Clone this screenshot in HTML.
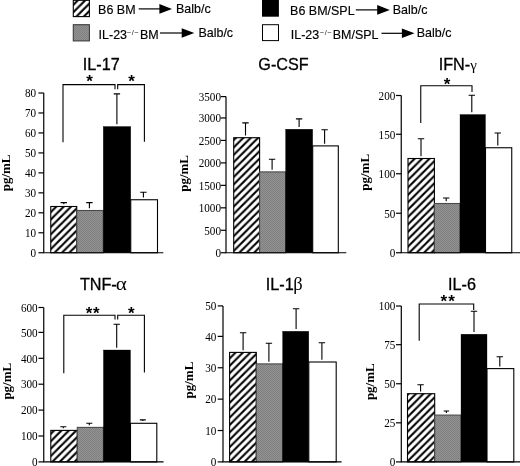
<!DOCTYPE html>
<html lang="en"><head><meta charset="utf-8"><title>Figure</title>
<style>
html,body{margin:0;padding:0;background:#fff;}
body{width:520px;height:466px;overflow:hidden;}
svg{display:block;will-change:transform;}
.lg{font-family:"Liberation Sans", Arial, Helvetica, sans-serif;font-size:11.9px;fill:#000;stroke:#000;stroke-width:0.15px;}
.sup{font-family:"Liberation Sans", Arial, Helvetica, sans-serif;font-size:7.5px;letter-spacing:0.5px;fill:#222;}
.tt{font-family:"Liberation Sans", Arial, Helvetica, sans-serif;font-size:16.2px;fill:#000;stroke:#000;stroke-width:0.3px;}
.gk{font-family:"Liberation Serif", "Times New Roman", Times, serif;font-size:15px;fill:#000;stroke-width:0;}
.tk{font-family:"Liberation Serif", "Times New Roman", Times, serif;font-size:11.7px;fill:#000;}
.yl{font-family:"Liberation Serif", "Times New Roman", Times, serif;font-size:13px;font-weight:bold;fill:#000;}
.st{font-family:"Liberation Sans", Arial, Helvetica, sans-serif;font-size:17px;font-weight:bold;fill:#000;}
</style></head><body>
<svg width="520" height="466" viewBox="0 0 520 466">
<defs>
<pattern id="hatch" width="7.39" height="7.39" patternUnits="userSpaceOnUse"><rect width="7.39" height="7.39" fill="#fff"/><path d="M-23.14 20L16.86 -20M-15.75 20L24.25 -20M-8.36 20L31.64 -20M-0.97 20L39.03 -20" stroke="#000" stroke-width="2.0" fill="none"/></pattern>
<pattern id="dots" width="2" height="2" patternUnits="userSpaceOnUse"><rect width="2" height="2" fill="#929292"/><rect width="1" height="1" fill="#808080"/><rect x="1" y="1" width="1" height="1" fill="#808080"/></pattern>
</defs>
<rect width="520" height="466" fill="#fff"/>
<rect x="73.3" y="0.3" width="16.1" height="16.3" fill="url(#hatch)" stroke="#000" stroke-width="1.1"/>
<rect x="73.3" y="24.7" width="16.1" height="16.2" fill="url(#dots)" stroke="#3c3c3c" stroke-width="1.1"/>
<rect x="262" y="0" width="16.9" height="16.7" fill="#000"/>
<rect x="262.5" y="24.7" width="16" height="15.9" fill="#fff" stroke="#000" stroke-width="1"/>
<text transform="translate(98.1 14.2) scale(1.05 1)" class="lg">B6 BM</text>
<path d="M138.7 8.9H162" stroke="#000" stroke-width="1.2"/>
<path d="M172 8.9L159.40 4.10V13.70Z" fill="#000"/>
<text transform="translate(176.0 12.9) scale(1.05 1)" class="lg">Balb/c</text>
<text transform="translate(98.6 38.5) scale(1.05 1)" class="lg">IL-23</text>
<text x="126.8" y="34.7" class="sup">−/−</text>
<text transform="translate(139.9 38.5) scale(1.05 1)" class="lg">BM</text>
<path d="M160 33.0H184.3" stroke="#000" stroke-width="1.2"/>
<path d="M194.3 33.0L181.70 28.20V37.80Z" fill="#000"/>
<text transform="translate(198.4 37.3) scale(1.05 1)" class="lg">Balb/c</text>
<text transform="translate(290.1 15.0) scale(1.05 1)" class="lg">B6 BM/SPL</text>
<path d="M355.8 9.9H379.8" stroke="#000" stroke-width="1.2"/>
<path d="M389.8 9.9L377.20 5.10V14.70Z" fill="#000"/>
<text transform="translate(392.7 13.5) scale(1.05 1)" class="lg">Balb/c</text>
<text transform="translate(290.8 38.55) scale(1.05 1)" class="lg">IL-23</text>
<text x="319.8" y="34.8" class="sup">−/−</text>
<text transform="translate(332.7 38.55) scale(1.05 1)" class="lg">BM/SPL</text>
<path d="M381.5 33.3H404.5" stroke="#000" stroke-width="1.2"/>
<path d="M414.5 33.3L401.90 28.50V38.10Z" fill="#000"/>
<text transform="translate(416.7 36.8) scale(1.05 1)" class="lg">Balb/c</text>
<text x="82.8" y="70.3" class="tt">IL-17</text>
<text x="258.3" y="70.4" class="tt">G-CSF</text>
<text x="438.7" y="70.2" class="tt">IFN-<tspan class="gk">γ</tspan></text>
<text x="79.9" y="289.8" class="tt">TNF-</text>
<text transform="translate(115.8 289.7) scale(1.17 1)" class="gk" style="font-size:18px">α</text>
<text x="265.8" y="289.8" class="tt">IL-1</text>
<text x="293.2" y="289.7" class="gk" style="font-size:18.5px">β</text>
<text x="448.0" y="289.8" class="tt">IL-6</text>
<path d="M60.60 202.6H67.00M63.80 202.6V204.30" fill="none" stroke="#000" stroke-width="1.1"/>
<path d="M86.20 202.6H92.60M89.40 202.6V208.30" fill="none" stroke="#000" stroke-width="1.1"/>
<path d="M113.70 93.9H120.10M116.90 93.9V124.30" fill="none" stroke="#000" stroke-width="1.1"/>
<path d="M140.20 192.3H146.60M143.40 192.3V197.55" fill="none" stroke="#000" stroke-width="1.1"/>
<rect x="50.75" y="206.5" width="26.00" height="46.25" fill="url(#hatch)" stroke="#000" stroke-width="1.1"/>
<rect x="76.75" y="210.5" width="26.50" height="42.25" fill="url(#dots)" stroke="#4a4a4a" stroke-width="1.1"/>
<rect x="103.25" y="126.5" width="27.50" height="126.25" fill="#000" stroke="#000" stroke-width="0.3"/>
<rect x="130.75" y="199.75" width="26.75" height="53.00" fill="#fff" stroke="#000" stroke-width="1.1"/>
<path d="M43.75 93.0V252.75H163.3" fill="none" stroke="#000" stroke-width="1.2"/>
<path d="M38.45 252.75H43.75" stroke="#000" stroke-width="1.2"/>
<text transform="translate(36.20 257.00) scale(0.955 1)" text-anchor="end" class="tk">0</text>
<path d="M38.45 232.78H43.75" stroke="#000" stroke-width="1.2"/>
<text transform="translate(36.20 237.03) scale(0.955 1)" text-anchor="end" class="tk">10</text>
<path d="M38.45 212.81H43.75" stroke="#000" stroke-width="1.2"/>
<text transform="translate(36.20 217.06) scale(0.955 1)" text-anchor="end" class="tk">20</text>
<path d="M38.45 192.84H43.75" stroke="#000" stroke-width="1.2"/>
<text transform="translate(36.20 197.09) scale(0.955 1)" text-anchor="end" class="tk">30</text>
<path d="M38.45 172.88H43.75" stroke="#000" stroke-width="1.2"/>
<text transform="translate(36.20 177.12) scale(0.955 1)" text-anchor="end" class="tk">40</text>
<path d="M38.45 152.91H43.75" stroke="#000" stroke-width="1.2"/>
<text transform="translate(36.20 157.16) scale(0.955 1)" text-anchor="end" class="tk">50</text>
<path d="M38.45 132.94H43.75" stroke="#000" stroke-width="1.2"/>
<text transform="translate(36.20 137.19) scale(0.955 1)" text-anchor="end" class="tk">60</text>
<path d="M38.45 112.97H43.75" stroke="#000" stroke-width="1.2"/>
<text transform="translate(36.20 117.22) scale(0.955 1)" text-anchor="end" class="tk">70</text>
<path d="M38.45 93.00H43.75" stroke="#000" stroke-width="1.2"/>
<text transform="translate(36.20 97.25) scale(0.955 1)" text-anchor="end" class="tk">80</text>
<text transform="translate(10.0,172.88) rotate(-90)" text-anchor="middle" class="yl">pg/mL</text>
<path d="M63 142.3V84.6H115V89.2M117.7 89.2V84.6H144.4V141.8" fill="none" stroke="#000" stroke-width="1.1"/>
<text x="89.6" y="87" text-anchor="middle" class="st">*</text>
<text x="131.5" y="87" text-anchor="middle" class="st">*</text>
<path d="M242.30 122.9H248.70M245.50 122.9V135.50" fill="none" stroke="#000" stroke-width="1.1"/>
<path d="M268.90 159.2H275.30M272.10 159.2V169.70" fill="none" stroke="#000" stroke-width="1.1"/>
<path d="M295.90 118.9H302.30M299.10 118.9V127.00" fill="none" stroke="#000" stroke-width="1.1"/>
<path d="M321.40 129.8H327.80M324.60 129.8V143.70" fill="none" stroke="#000" stroke-width="1.1"/>
<rect x="233.7" y="137.7" width="25.90" height="115.05" fill="url(#hatch)" stroke="#000" stroke-width="1.1"/>
<rect x="259.6" y="171.9" width="26.00" height="80.85" fill="url(#dots)" stroke="#4a4a4a" stroke-width="1.1"/>
<rect x="285.6" y="129.2" width="27.10" height="123.55" fill="#000" stroke="#000" stroke-width="0.3"/>
<rect x="312.7" y="145.9" width="25.60" height="106.85" fill="#fff" stroke="#000" stroke-width="1.1"/>
<path d="M226 96.6V252.75H346.3" fill="none" stroke="#000" stroke-width="1.2"/>
<path d="M220.70 252.75H226" stroke="#000" stroke-width="1.2"/>
<text transform="translate(221.00 257.00) scale(0.955 1)" text-anchor="end" class="tk">0</text>
<path d="M220.70 230.29H226" stroke="#000" stroke-width="1.2"/>
<text transform="translate(221.00 234.54) scale(0.955 1)" text-anchor="end" class="tk">500</text>
<path d="M220.70 207.82H226" stroke="#000" stroke-width="1.2"/>
<text transform="translate(221.00 212.07) scale(0.955 1)" text-anchor="end" class="tk">1000</text>
<path d="M220.70 185.36H226" stroke="#000" stroke-width="1.2"/>
<text transform="translate(221.00 189.61) scale(0.955 1)" text-anchor="end" class="tk">1500</text>
<path d="M220.70 162.89H226" stroke="#000" stroke-width="1.2"/>
<text transform="translate(221.00 167.14) scale(0.955 1)" text-anchor="end" class="tk">2000</text>
<path d="M220.70 140.43H226" stroke="#000" stroke-width="1.2"/>
<text transform="translate(221.00 144.68) scale(0.955 1)" text-anchor="end" class="tk">2500</text>
<path d="M220.70 117.96H226" stroke="#000" stroke-width="1.2"/>
<text transform="translate(221.00 122.21) scale(0.955 1)" text-anchor="end" class="tk">3000</text>
<path d="M220.70 96.60H226" stroke="#000" stroke-width="1.2"/>
<text transform="translate(221.00 100.85) scale(0.955 1)" text-anchor="end" class="tk">3500</text>
<text transform="translate(187.8,173.40) rotate(-90)" text-anchor="middle" class="yl">pg/mL</text>
<path d="M417.80 138.7H424.20M421.00 138.7V156.30" fill="none" stroke="#000" stroke-width="1.1"/>
<path d="M443.00 198H449.40M446.20 198V201.30" fill="none" stroke="#000" stroke-width="1.1"/>
<path d="M468.60 95.2H475.00M471.80 95.2V112.30" fill="none" stroke="#000" stroke-width="1.1"/>
<path d="M494.60 133H501.00M497.80 133V145.55" fill="none" stroke="#000" stroke-width="1.1"/>
<rect x="408.0" y="158.5" width="26.40" height="94.25" fill="url(#hatch)" stroke="#000" stroke-width="1.1"/>
<rect x="434.4" y="203.5" width="25.60" height="49.25" fill="url(#dots)" stroke="#4a4a4a" stroke-width="1.1"/>
<rect x="460" y="114.5" width="25.50" height="138.25" fill="#000" stroke="#000" stroke-width="0.3"/>
<rect x="485.5" y="147.75" width="26.25" height="105.00" fill="#fff" stroke="#000" stroke-width="1.1"/>
<path d="M401.25 95.5V252.75H520" fill="none" stroke="#000" stroke-width="1.2"/>
<path d="M395.95 252.75H401.25" stroke="#000" stroke-width="1.2"/>
<text transform="translate(395.30 257.00) scale(0.955 1)" text-anchor="end" class="tk">0</text>
<path d="M395.95 213.25H401.25" stroke="#000" stroke-width="1.2"/>
<text transform="translate(395.30 217.50) scale(0.955 1)" text-anchor="end" class="tk">50</text>
<path d="M395.95 173.75H401.25" stroke="#000" stroke-width="1.2"/>
<text transform="translate(395.30 178.00) scale(0.955 1)" text-anchor="end" class="tk">100</text>
<path d="M395.95 134.25H401.25" stroke="#000" stroke-width="1.2"/>
<text transform="translate(395.30 138.50) scale(0.955 1)" text-anchor="end" class="tk">150</text>
<path d="M395.95 95.50H401.25" stroke="#000" stroke-width="1.2"/>
<text transform="translate(395.30 99.75) scale(0.955 1)" text-anchor="end" class="tk">200</text>
<text transform="translate(369.3,172.30) rotate(-90)" text-anchor="middle" class="yl">pg/mL</text>
<path d="M420.75 123V85.8H472V92" fill="none" stroke="#000" stroke-width="1.1"/>
<text x="447.1" y="89.9" text-anchor="middle" class="st">*</text>
<path d="M60.30 426.7H66.30M63.30 426.7V428.20" fill="none" stroke="#000" stroke-width="1.1"/>
<path d="M86.30 423.2H92.30M89.30 423.2V425.20" fill="none" stroke="#000" stroke-width="1.1"/>
<path d="M113.50 324.3H119.90M116.70 324.3V347.80" fill="none" stroke="#000" stroke-width="1.1"/>
<path d="M139.80 419.9H145.80M142.80 419.9V421.10" fill="none" stroke="#000" stroke-width="1.1"/>
<rect x="50.8" y="430.4" width="26.50" height="31.50" fill="url(#hatch)" stroke="#000" stroke-width="1.1"/>
<rect x="77.3" y="427.4" width="26.10" height="34.50" fill="url(#dots)" stroke="#4a4a4a" stroke-width="1.1"/>
<rect x="103.4" y="350" width="27.10" height="111.90" fill="#000" stroke="#000" stroke-width="0.3"/>
<rect x="130.5" y="423.3" width="26.30" height="38.60" fill="#fff" stroke="#000" stroke-width="1.1"/>
<path d="M43.75 307.5V461.9H163.6" fill="none" stroke="#000" stroke-width="1.2"/>
<path d="M38.45 461.90H43.75" stroke="#000" stroke-width="1.2"/>
<text transform="translate(37.70 466.15) scale(0.955 1)" text-anchor="end" class="tk">0</text>
<path d="M38.45 436.00H43.75" stroke="#000" stroke-width="1.2"/>
<text transform="translate(37.70 440.25) scale(0.955 1)" text-anchor="end" class="tk">100</text>
<path d="M38.45 410.10H43.75" stroke="#000" stroke-width="1.2"/>
<text transform="translate(37.70 414.35) scale(0.955 1)" text-anchor="end" class="tk">200</text>
<path d="M38.45 384.20H43.75" stroke="#000" stroke-width="1.2"/>
<text transform="translate(37.70 388.45) scale(0.955 1)" text-anchor="end" class="tk">300</text>
<path d="M38.45 358.30H43.75" stroke="#000" stroke-width="1.2"/>
<text transform="translate(37.70 362.55) scale(0.955 1)" text-anchor="end" class="tk">400</text>
<path d="M38.45 332.40H43.75" stroke="#000" stroke-width="1.2"/>
<text transform="translate(37.70 336.65) scale(0.955 1)" text-anchor="end" class="tk">500</text>
<path d="M38.45 307.50H43.75" stroke="#000" stroke-width="1.2"/>
<text transform="translate(37.70 311.75) scale(0.955 1)" text-anchor="end" class="tk">600</text>
<text transform="translate(10.5,381.20) rotate(-90)" text-anchor="middle" class="yl">pg/mL</text>
<path d="M63.8 373.3V315.2H115V319.4M117.7 319.4V315.2H144.4V372.6" fill="none" stroke="#000" stroke-width="1.1"/>
<text x="89.1" y="318.8" text-anchor="middle" class="st">*</text>
<text x="96.4" y="318.8" text-anchor="middle" class="st">*</text>
<text x="131.4" y="318.8" text-anchor="middle" class="st">*</text>
<path d="M239.90 332.7H246.30M243.10 332.7V350.20" fill="none" stroke="#000" stroke-width="1.1"/>
<path d="M265.70 343.2H272.10M268.90 343.2V361.70" fill="none" stroke="#000" stroke-width="1.1"/>
<path d="M292.90 308.7H299.30M296.10 308.7V329.05" fill="none" stroke="#000" stroke-width="1.1"/>
<path d="M318.70 342.75H325.10M321.90 342.75V359.80" fill="none" stroke="#000" stroke-width="1.1"/>
<rect x="229.6" y="352.4" width="26.70" height="109.50" fill="url(#hatch)" stroke="#000" stroke-width="1.1"/>
<rect x="256.3" y="363.9" width="26.30" height="98.00" fill="url(#dots)" stroke="#4a4a4a" stroke-width="1.1"/>
<rect x="282.6" y="331.25" width="26.20" height="130.65" fill="#000" stroke="#000" stroke-width="0.3"/>
<rect x="308.8" y="362.0" width="27.40" height="99.90" fill="#fff" stroke="#000" stroke-width="1.1"/>
<path d="M223 305.9V461.9H341.6" fill="none" stroke="#000" stroke-width="1.2"/>
<path d="M217.70 461.90H223" stroke="#000" stroke-width="1.2"/>
<text transform="translate(216.40 466.15) scale(0.955 1)" text-anchor="end" class="tk">0</text>
<path d="M217.70 430.52H223" stroke="#000" stroke-width="1.2"/>
<text transform="translate(216.40 434.77) scale(0.955 1)" text-anchor="end" class="tk">10</text>
<path d="M217.70 399.14H223" stroke="#000" stroke-width="1.2"/>
<text transform="translate(216.40 403.39) scale(0.955 1)" text-anchor="end" class="tk">20</text>
<path d="M217.70 367.76H223" stroke="#000" stroke-width="1.2"/>
<text transform="translate(216.40 372.01) scale(0.955 1)" text-anchor="end" class="tk">30</text>
<path d="M217.70 336.38H223" stroke="#000" stroke-width="1.2"/>
<text transform="translate(216.40 340.63) scale(0.955 1)" text-anchor="end" class="tk">40</text>
<path d="M217.70 305.90H223" stroke="#000" stroke-width="1.2"/>
<text transform="translate(216.40 310.15) scale(0.955 1)" text-anchor="end" class="tk">50</text>
<text transform="translate(193.0,380.10) rotate(-90)" text-anchor="middle" class="yl">pg/mL</text>
<path d="M417.40 384.7H423.80M420.60 384.7V391.50" fill="none" stroke="#000" stroke-width="1.1"/>
<path d="M443.70 411.0H449.10M446.40 411.0V412.90" fill="none" stroke="#000" stroke-width="1.1"/>
<path d="M470.80 311.2H477.20M474.00 311.2V332.00" fill="none" stroke="#000" stroke-width="1.1"/>
<path d="M496.60 356.7H503.00M499.80 356.7V366.40" fill="none" stroke="#000" stroke-width="1.1"/>
<rect x="407.5" y="393.7" width="27.20" height="68.20" fill="url(#hatch)" stroke="#000" stroke-width="1.1"/>
<rect x="434.7" y="415.1" width="26.30" height="46.80" fill="url(#dots)" stroke="#4a4a4a" stroke-width="1.1"/>
<rect x="461" y="334.2" width="26.00" height="127.70" fill="#000" stroke="#000" stroke-width="0.3"/>
<rect x="487" y="368.6" width="26.80" height="93.30" fill="#fff" stroke="#000" stroke-width="1.1"/>
<path d="M401.3 306.0V461.9H520" fill="none" stroke="#000" stroke-width="1.2"/>
<path d="M396.00 461.90H401.3" stroke="#000" stroke-width="1.2"/>
<text transform="translate(395.40 466.15) scale(0.955 1)" text-anchor="end" class="tk">0</text>
<path d="M396.00 422.82H401.3" stroke="#000" stroke-width="1.2"/>
<text transform="translate(395.40 427.07) scale(0.955 1)" text-anchor="end" class="tk">25</text>
<path d="M396.00 383.75H401.3" stroke="#000" stroke-width="1.2"/>
<text transform="translate(395.40 388.00) scale(0.955 1)" text-anchor="end" class="tk">50</text>
<path d="M396.00 344.68H401.3" stroke="#000" stroke-width="1.2"/>
<text transform="translate(395.40 348.93) scale(0.955 1)" text-anchor="end" class="tk">75</text>
<path d="M396.00 306.00H401.3" stroke="#000" stroke-width="1.2"/>
<text transform="translate(395.40 310.25) scale(0.955 1)" text-anchor="end" class="tk">100</text>
<text transform="translate(374.2,381.70) rotate(-90)" text-anchor="middle" class="yl">pg/mL</text>
<path d="M419.2 340.8V304H473.7V310" fill="none" stroke="#000" stroke-width="1.1"/>
<text x="443.9" y="307.4" text-anchor="middle" class="st">*</text>
<text x="451.6" y="307.4" text-anchor="middle" class="st">*</text>
</svg>
</body></html>
